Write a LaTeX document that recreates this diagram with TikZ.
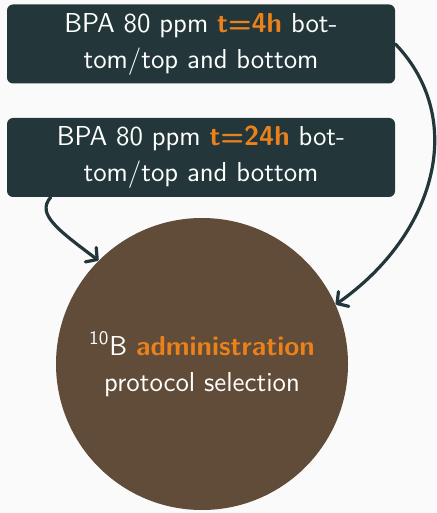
\documentclass[tikz,border=0pt]{standalone}
\usetikzlibrary{arrows.meta}
\definecolor{mDark}{HTML}{23373B}
\definecolor{mOrange}{HTML}{EB811B}
\definecolor{mBrown}{HTML}{604C38}
\definecolor{mBg}{HTML}{FAFAFA}
\begin{document}
\begin{tikzpicture}[x=0.5pt,y=-0.5pt,
  txt/.style={font=\sffamily\fontsize{13.7}{18}\selectfont, text=white, align=center},
  stepbox/.style={txt, fill=mDark, rounded corners=3pt, minimum width=194pt,
    minimum height=39.5pt, inner sep=0pt},
  hub/.style={txt, circle, fill=mBrown, minimum size=146pt, inner sep=0pt},
  flow/.style={draw=mDark, line width=1.6pt, line cap=round, line join=round,
    -{Straight Barb[length=4pt,width=9pt,line cap=round,line join=round]}}]
% page background and fixed frame
\useasboundingbox (0,0) rectangle (437,513);
\fill[mBg] (0,0) rectangle (437,513);
% the two sample boxes
\node[stepbox] (s4) at (201,44)
  {BPA 80 ppm \textcolor{mOrange}{\bfseries t=4h} bot-\\tom/top and bottom};
\node[stepbox] (s24) at (201,157.5)
  {BPA 80 ppm \textcolor{mOrange}{\bfseries t=24h} bot-\\tom/top and bottom};
% protocol circle
\node[hub] (c) at (202,364)
  {\textsuperscript{10}B \textcolor{mOrange}{\bfseries administration}\\protocol selection};
% connectors
\coordinate (a2) at ([xshift=22pt]s24.south west);
\draw[flow] (s4.east) .. controls (468,120) and (435,235) .. (c.24.6);
\draw[flow] (a2) .. controls (36,214) and (58,230) .. (c.135.8);
\end{tikzpicture}
\end{document}
